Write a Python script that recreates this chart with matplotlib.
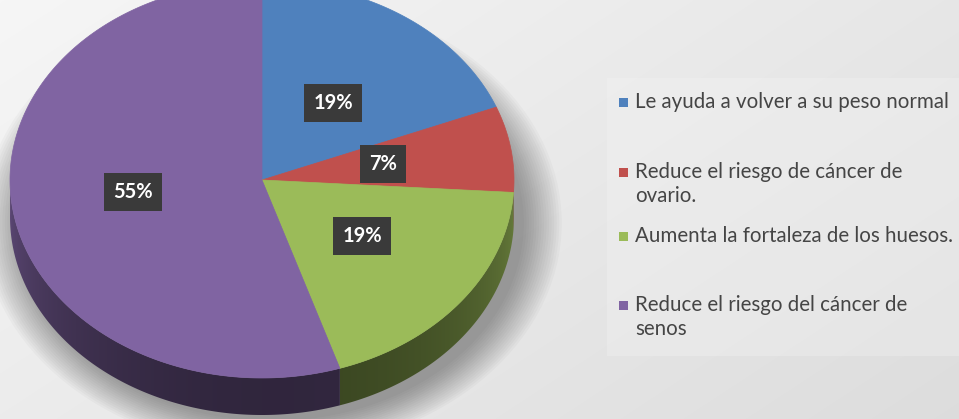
import numpy as np
import matplotlib
matplotlib.use("Agg")
import matplotlib.pyplot as plt
from matplotlib.patches import Polygon, Rectangle, Ellipse
from matplotlib.colors import to_rgb

labels = ["Le ayuda a volver a su peso normal",
          "Reduce el riesgo de cáncer de\novario.",
          "Aumenta la fortaleza de los huesos.",
          "Reduce el riesgo del cáncer de\nsenos"]
values = [19, 7, 19, 55]
pct_labels = ["19%", "7%", "19%", "55%"]
colors = ["#4f81bd", "#c0504d", "#9bbb59", "#8064a2"]

W, H = 959, 419
fig = plt.figure(figsize=(W / 100, H / 100), dpi=100)
ax = fig.add_axes([0, 0, 1, 1])
ax.set_xlim(0, W)
ax.set_ylim(H, 0)
ax.axis("off")

# background gradient: light top-left, darker bottom-right
yy, xx = np.mgrid[0:H, 0:W]
d = (xx / W) * 0.6 + (yy / H) * 0.4
g = 0.965 - 0.10 * d
ax.imshow(np.dstack([g, g, g]), extent=(0, W, H, 0), zorder=0, aspect="auto")

# legend panel (slightly lighter)
ax.add_patch(Rectangle((607, 78), 352, 278, facecolor="#f6f6f6", edgecolor="none",
                       alpha=0.3, zorder=1))

# pie geometry
cx, cy, rx, ry, depth = 262, 180, 252, 198, 37

# soft shadow
for i in range(16):
    s = 1.0 + i * 0.010
    ax.add_patch(Ellipse((cx + 10, cy + depth + 6), 2 * rx * s, 2 * ry * s,
                         facecolor="#000000", alpha=0.022, edgecolor="none", zorder=1))


def pt(theta, dy=0.0):
    return cx + rx * np.cos(theta), cy - ry * np.sin(theta) + dy


total = float(sum(values))
start = np.pi / 2
angles = []
for v in values:
    span = 2 * np.pi * v / total
    angles.append((start - span, start))
    start -= span

# side walls with shading gradient (clipped image)
for (a0, a1), c in zip(angles, colors):
    th = np.linspace(a0, a1, 500)
    th = th[np.sin(th) < 0.02]
    if len(th) < 2:
        continue
    top = [pt(t) for t in th]
    bot = [pt(t, depth) for t in th[::-1]]
    poly = Polygon(top + bot, closed=True, facecolor="none", edgecolor="none", zorder=2)
    ax.add_patch(poly)
    rgb = np.array(to_rgb(c))
    u = (xx - cx) / rx
    f = 0.70 - 0.32 * np.sqrt(np.clip(1 - u ** 2, 0, 1)) - 0.02 * u
    img = np.clip(rgb[None, None, :] * f[:, :, None], 0, 1)
    im = ax.imshow(img, extent=(0, W, H, 0), zorder=2, aspect="auto")
    im.set_clip_path(poly)

# tops
for (a0, a1), c in zip(angles, colors):
    th = np.linspace(a1, a0, 300)
    pts = [(cx, cy)] + [pt(t) for t in th]
    ax.add_patch(Polygon(pts, closed=True, facecolor=c, edgecolor=c, lw=0.5, zorder=3))

# percentage labels
label_pos = [(333, 103), (383, 164), (362, 236), (133, 192)]
for (x, y), t in zip(label_pos, pct_labels):
    ax.text(x, y, t, ha="center", va="center", color="white", fontsize=14.5,
            fontweight="bold", family=["Lato", "DejaVu Sans"], zorder=5,
            bbox=dict(boxstyle="square,pad=0.45", facecolor="#3a3a3a", edgecolor="none"))

# legend
leg_y = [102, 172, 236, 305]
for y, t, c in zip(leg_y, labels, colors):
    ax.add_patch(Rectangle((619, y - 4), 9, 9, facecolor=c, edgecolor="none", zorder=5))
    ax.text(635, y - 10, t, ha="left", va="top", color="#454545", fontsize=14.8,
            family=["Lato", "DejaVu Sans"], linespacing=1.27, zorder=5)

fig.savefig("out.png", dpi=100)
